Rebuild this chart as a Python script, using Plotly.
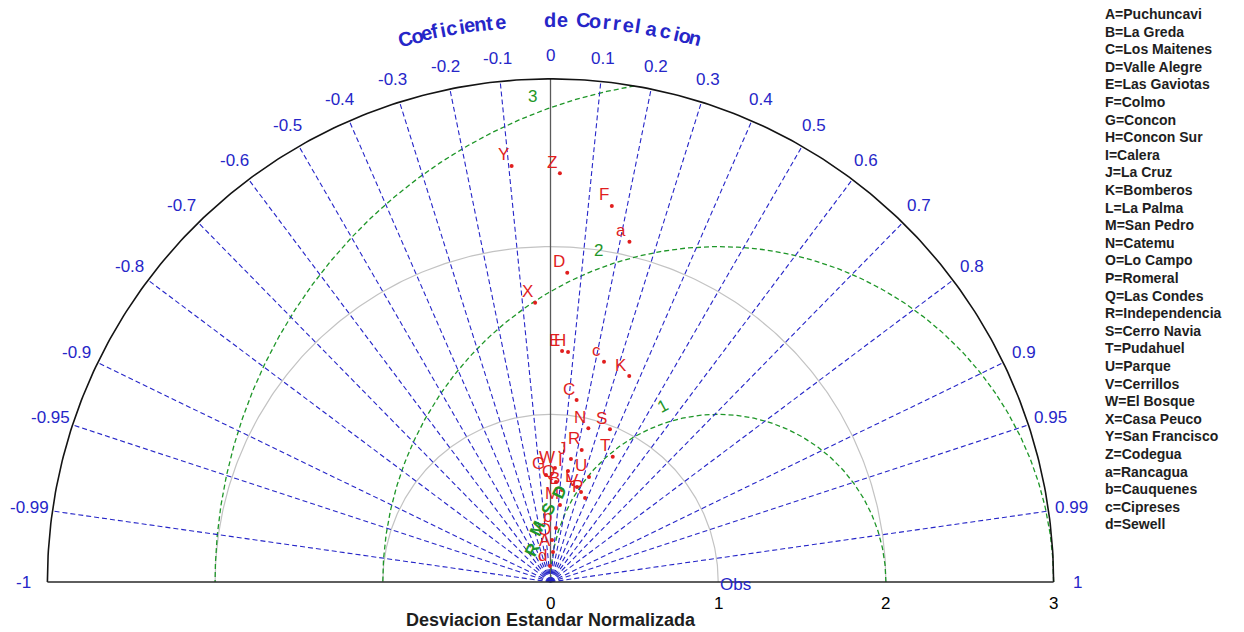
import numpy as np
import plotly.graph_objects as go

# ---- data -------------------------------------------------------------
letters = list("ABCDEFGHIJKLMNOPQRSTUVWXYZabcd")
stations = ["Puchuncavi", "La Greda", "Los Maitenes", "Valle Alegre", "Las Gaviotas",
            "Colmo", "Concon", "Concon Sur", "Calera", "La Cruz", "Bomberos",
            "La Palma", "San Pedro", "Catemu", "Lo Campo", "Romeral", "Las Condes",
            "Independencia", "Cerro Navia", "Pudahuel", "Parque", "Cerrillos",
            "El Bosque", "Casa Peuco", "San Francisco", "Codegua", "Rancagua",
            "Cauquenes", "Cipreses", "Sewell"]
# normalised standard deviation and correlation of each station
std_ratio = [0.180, 0.553, 1.096, 1.847, 1.379, 2.272, 0.639, 1.376, 0.670, 0.743,
             1.315, 0.588, 0.463, 0.944, 0.250, 0.542, 0.597, 0.809, 0.977, 0.834,
             0.667, 0.567, 0.680, 1.668, 2.492, 2.438, 2.083, 0.324, 1.352, 0.095]
correlation = [0.083, 0.124, 0.142, 0.054, 0.050, 0.161, -0.042, 0.076, 0.156, 0.164,
               0.357, 0.269, 0.122, 0.239, 0.036, 0.380, 0.055, 0.230, 0.363, 0.445,
               0.344, 0.321, 0.039, -0.055, -0.093, 0.023, 0.226, 0.101, 0.236, -0.030]

corr_ticks = [-1, -0.99, -0.95, -0.9, -0.8, -0.7, -0.6, -0.5, -0.4, -0.3, -0.2, -0.1, 0,
              0.1, 0.2, 0.3, 0.4, 0.5, 0.6, 0.7, 0.8, 0.9, 0.95, 0.99, 1]
corr_tick_text = ["-1", "-0.99", "-0.95", "-0.9", "-0.8", "-0.7", "-0.6", "-0.5", "-0.4",
                  "-0.3", "-0.2", "-0.1", "0", "0.1", "0.2", "0.3", "0.4", "0.5", "0.6",
                  "0.7", "0.8", "0.9", "0.95", "0.99", "1"]
std_ticks = [0, 1, 2, 3]
std_circles = [1, 2]
rms_circles = [1, 2, 3]

title_text = "Coeficiente de Correlacion"
title_angles = [105.0, 103.76, 102.71, 101.85, 101.02, 100.11, 99.08, 98.33, 97.20, 96.18,
                95.15, None, 90.05, 88.73, None, 86.69, 85.46, 84.27, 83.24, 82.08, 81.05,
                79.64, 78.25, 77.03, 76.17, 75.11]

# ---- styling / geometry constants ------------------------------------
W, H = 1244, 632
CX, CY, SCALE = 550.5, 582.0, 167.7   # pixel of origin and pixels per unit
RMAX = 3.0
BLUE = "rgb(38,38,200)"
GREEN = "rgb(30,150,40)"
RED = "rgb(225,30,30)"
GREY = "rgb(195,195,195)"
FONT = "Liberation Sans"

x_range = [(0 - CX) / SCALE, (W - CX) / SCALE]
y_range = [(CY - H) / SCALE, CY / SCALE]

fig = go.Figure()


def line(x, y, color, width=1.2, dash="solid"):
    fig.add_trace(go.Scatter(x=x, y=y, mode="lines", hoverinfo="skip",
                             line=dict(color=color, width=width, dash=dash)))


# standard deviation arcs (grey)
th = np.linspace(0, np.pi, 300)
for r in std_circles:
    line(r * np.cos(th), r * np.sin(th), GREY, 1.2)

# centred RMS difference arcs (green), clipped to the outer circle
for r in rms_circles:
    if r + 1 <= RMAX:
        phi = np.linspace(0, np.pi, 300)
    else:
        x_cut = (RMAX ** 2 - r ** 2 + 1) / 2.0
        phi0 = np.arccos((x_cut - 1) / r)
        phi = np.linspace(phi0, np.pi, 300)
    line(1 + r * np.cos(phi), r * np.sin(phi), GREEN, 1.3, "5px,3px")

# correlation rays
for c in corr_ticks:
    if abs(c) == 1:
        continue
    a = np.arccos(c)
    if c == 0:
        line([0, 0], [0, RMAX], "rgb(90,90,90)", 1.3)
    else:
        line([0, RMAX * np.cos(a)], [0, RMAX * np.sin(a)], BLUE, 1.1, "5px,3px")

# outer arc and baseline
line(RMAX * np.cos(th), RMAX * np.sin(th), "rgb(20,20,20)", 1.6)
line([-RMAX, RMAX], [0, 0], "rgb(40,40,40)", 1.6)

# station points
s = np.array(std_ratio)
c = np.array(correlation)
px = s * c
py = s * np.sqrt(1 - c ** 2)
fig.add_trace(go.Scatter(x=px, y=py, mode="markers", hoverinfo="skip",
                         marker=dict(color=RED, size=4)))

ann = []
for L, xx, yy in zip(letters, px, py):
    ann.append(dict(x=xx, y=yy, text=L, showarrow=False, xshift=-8, yshift=11,
                    font=dict(family=FONT, size=17, color=RED)))

# correlation tick labels
R_LAB = 3.14
for v, t in zip(corr_ticks, corr_tick_text):
    a = np.arccos(v)
    ann.append(dict(x=R_LAB * np.cos(a), y=R_LAB * np.sin(a), text=t, showarrow=False,
                    font=dict(family=FONT, size=17, color=BLUE)))

# curved title along the correlation arc
R_TITLE = 562.5 / SCALE
for ch, ang in zip(title_text, title_angles):
    if ang is None or ch == " ":
        continue
    a = np.radians(ang)
    ann.append(dict(x=R_TITLE * np.cos(a), y=R_TITLE * np.sin(a), text=f"<b>{ch}</b>",
                    showarrow=False, textangle=90 - ang,
                    font=dict(family=FONT, size=20, color=BLUE)))

# RMS circle labels
rms_label_angles = [107.7, 109.9, 110.9]
for r, ang in zip(rms_circles, rms_label_angles):
    a = np.radians(ang)
    ann.append(dict(x=1 + (r + 0.1) * np.cos(a), y=(r + 0.1) * np.sin(a), text=str(r),
                    showarrow=False, textangle=-28 if r == 1 else 0,
                    font=dict(family=FONT, size=17, color=GREEN)))

# RMSD label near the origin
for ch, (qx, qy) in zip("RMSD", [(531.7, 550), (537.3, 528.3), (548.3, 509.3), (559, 492)]):
    ann.append(dict(x=(qx - CX) / SCALE, y=(CY - qy) / SCALE, text=f"<b>{ch}</b>",
                    showarrow=False, textangle=-65,
                    font=dict(family=FONT, size=17, color=GREEN)))

# Obs marker label
ann.append(dict(x=1, y=0, text="Obs", showarrow=False, xanchor="left", yshift=-2,
                font=dict(family=FONT, size=17, color=BLUE)))

# standard deviation axis
for v in std_ticks:
    ann.append(dict(x=v, y=0, text=str(v), showarrow=False, yshift=-21,
                    font=dict(family=FONT, size=17, color="black")))
ann.append(dict(x=0, y=0, text="<b>Desviacion Estandar Normalizada</b>", showarrow=False,
                yshift=-38, font=dict(family=FONT, size=18, color="rgb(30,30,30)")))

# station key
for i, (L, name) in enumerate(zip(letters, stations)):
    ann.append(dict(xref="paper", yref="paper", x=1103 / W, y=1 - (14 + 17.6 * i) / H,
                    text=f"<b>{L}={name}</b>", showarrow=False, xanchor="left",
                    yanchor="middle",
                    font=dict(family=FONT, size=14, color="rgb(30,30,30)")))

fig.update_layout(
    width=W, height=H, margin=dict(l=0, r=0, t=0, b=0),
    paper_bgcolor="white", plot_bgcolor="white", showlegend=False,
    xaxis=dict(range=x_range, visible=False, fixedrange=True),
    yaxis=dict(range=y_range, visible=False, fixedrange=True),
    annotations=ann,
)

fig.write_html("out.html")
